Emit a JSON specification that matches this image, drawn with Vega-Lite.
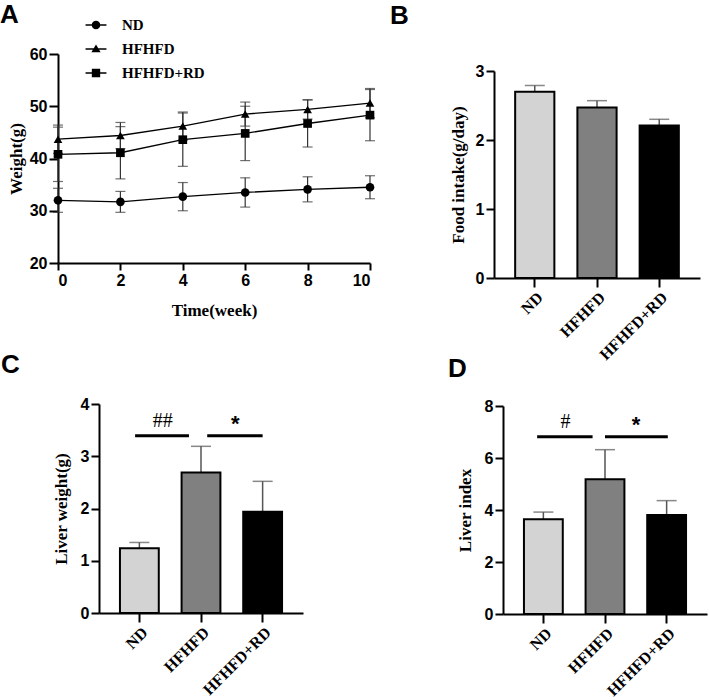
{
  "$schema": "https://vega.github.io/schema/vega-lite/v6.json",
  "background": "white",
  "autosize": {"type": "none"},
  "padding": {"left": 58, "top": 54, "right": 651, "bottom": 646},
  "columns": 2,
  "spacing": {"row": 126, "column": 124},
  "bounds": "flush",
  "align": "each",
  "config": {
    "view": {"stroke": null},
    "axis": {
      "domainColor": "black", "domainWidth": 2, "tickColor": "black", "tickWidth": 2, "tickSize": 8,
      "labelColor": "black", "labelFont": "Liberation Sans", "labelFontSize": 16, "labelFontWeight": "bold", "labelPadding": 2,
      "titleColor": "black", "titleFont": "Liberation Serif", "titleFontSize": 17, "titleFontWeight": "bold", "grid": false
    },
    "title": {"font": "Liberation Sans", "fontSize": 26, "fontWeight": "bold", "color": "black", "anchor": "start", "frame": "group", "baseline": "top"}
  },
  "datasets": {
    "weight": [
      {"week": 0, "group": "ND", "mean": 32.0, "sd": 2.3},
      {"week": 2, "group": "ND", "mean": 31.7, "sd": 2.0},
      {"week": 4, "group": "ND", "mean": 32.7, "sd": 2.7},
      {"week": 6, "group": "ND", "mean": 33.5, "sd": 2.8},
      {"week": 8, "group": "ND", "mean": 34.1, "sd": 2.4},
      {"week": 10, "group": "ND", "mean": 34.5, "sd": 2.2},
      {"week": 0, "group": "HFHFD", "mean": 43.7, "sd": 2.7},
      {"week": 2, "group": "HFHFD", "mean": 44.4, "sd": 2.5},
      {"week": 4, "group": "HFHFD", "mean": 46.2, "sd": 2.7},
      {"week": 6, "group": "HFHFD", "mean": 48.5, "sd": 2.3},
      {"week": 8, "group": "HFHFD", "mean": 49.4, "sd": 1.85},
      {"week": 10, "group": "HFHFD", "mean": 50.6, "sd": 2.8},
      {"week": 0, "group": "HFHFD+RD", "mean": 40.8, "sd": 5.2},
      {"week": 2, "group": "HFHFD+RD", "mean": 41.1, "sd": 5.0},
      {"week": 4, "group": "HFHFD+RD", "mean": 43.6, "sd": 5.1},
      {"week": 6, "group": "HFHFD+RD", "mean": 44.8, "sd": 5.2},
      {"week": 8, "group": "HFHFD+RD", "mean": 46.7, "sd": 4.5},
      {"week": 10, "group": "HFHFD+RD", "mean": 48.3, "sd": 4.9}
    ],
    "food": [
      {"group": "ND", "mean": 2.70, "sd": 0.09},
      {"group": "HFHFD", "mean": 2.47, "sd": 0.10},
      {"group": "HFHFD+RD", "mean": 2.21, "sd": 0.09}
    ],
    "liver": [
      {"group": "ND", "mean": 1.24, "sd": 0.11},
      {"group": "HFHFD", "mean": 2.69, "sd": 0.50},
      {"group": "HFHFD+RD", "mean": 1.94, "sd": 0.58}
    ],
    "index": [
      {"group": "ND", "mean": 3.64, "sd": 0.28},
      {"group": "HFHFD", "mean": 5.18, "sd": 1.14},
      {"group": "HFHFD+RD", "mean": 3.81, "sd": 0.55}
    ],
    "sigC": [
      {"pair": 1, "from": "ND", "to": "HFHFD", "level": 3.39, "label": "##"},
      {"pair": 2, "from": "HFHFD", "to": "HFHFD+RD", "level": 3.39, "label": "*"}
    ],
    "sigD": [
      {"pair": 1, "from": "ND", "to": "HFHFD", "level": 6.82, "label": "#"},
      {"pair": 2, "from": "HFHFD", "to": "HFHFD+RD", "level": 6.82, "label": "*"}
    ]
  },
  "concat": [
    {
      "width": 312, "height": 209,
      "title": {"text": "A", "dx": -58, "offset": -15},
      "data": {"name": "weight"},
      "encoding": {
        "x": {"field": "week", "type": "quantitative", "scale": {"domain": [0, 10], "nice": false},
              "axis": {"title": "Time(week)", "values": [0, 2, 4, 6, 8, 10], "tickSize": 7, "titlePadding": 14}},
        "y": {"field": "mean", "type": "quantitative", "scale": {"domain": [20, 60], "nice": false, "zero": false},
              "axis": {"title": "Weight(g)", "values": [20, 30, 40, 50, 60], "tickSize": 9, "titlePadding": 4}}
      },
      "layer": [
        {"mark": {"type": "errorbar", "color": "#333333", "thickness": 1.2, "ticks": {"size": 10, "thickness": 1.2}},
         "encoding": {"yError": {"field": "sd"}}},
        {"mark": {"type": "line", "color": "black", "strokeWidth": 1.3},
         "encoding": {"detail": {"field": "group"}}},
        {"mark": {"type": "point", "filled": true, "color": "black", "size": 75, "opacity": 1},
         "encoding": {"shape": {"field": "group", "scale": {"domain": ["ND", "HFHFD", "HFHFD+RD"], "range": ["circle", "triangle-up", "square"]}, "legend": null}}},
        {"mark": {"type": "point", "fill": "black", "stroke": "black", "strokeWidth": 1.5, "opacity": 0},
         "encoding": {"shape": {"field": "group",
           "scale": {"domain": ["ND", "HFHFD", "HFHFD+RD"],
                     "range": ["M-0.95,-0.065H0.95V0.065H-0.95ZM0.39,0A0.39,0.39,0,1,1,-0.39,0A0.39,0.39,0,1,1,0.39,0Z",
                               "M-0.95,-0.065H0.95V0.065H-0.95ZM0,-0.42L0.42,0.3L-0.42,0.3Z",
                               "M-0.95,-0.065H0.95V0.065H-0.95ZM-0.38,-0.38H0.38V0.38H-0.38Z"]},
           "legend": {"orient": "none", "legendX": 26, "legendY": -41, "title": null, "padding": 0,
                      "symbolSize": 484, "symbolStrokeWidth": 1.5, "symbolFillColor": "black", "symbolStrokeColor": "black", "symbolOpacity": 1,
                      "labelFont": "Liberation Serif", "labelFontWeight": "bold", "labelFontSize": 15, "labelColor": "black",
                      "labelOffset": 14, "rowPadding": 4}}}}
      ],
      "resolve": {"scale": {"shape": "independent"}}
    },
    {
      "width": 206, "height": 224,
      "title": {"text": "B", "dx": -104, "offset": 25},
      "data": {"name": "food"},
      "encoding": {
        "x": {"field": "group", "type": "nominal", "sort": null,
              "scale": {"domain": ["ND", "HFHFD", "HFHFD+RD"], "paddingInner": 0.37, "paddingOuter": 0.34},
              "axis": {"title": null, "labelAngle": -45, "labelFont": "Liberation Serif", "labelFontSize": 16, "tickSize": 9}},
        "y": {"field": "mean", "type": "quantitative", "scale": {"domain": [0, 3], "nice": false, "range": [224, 17]},
              "axis": {"title": "Food intake(g/day)", "values": [0, 1, 2, 3], "titlePadding": 8}}
      },
      "layer": [
        {"mark": {"type": "errorbar", "color": "#555555", "thickness": 1.5, "ticks": {"size": 20, "thickness": 1.5}},
         "encoding": {"yError": {"field": "sd"}}},
        {"mark": {"type": "bar", "stroke": "black", "strokeWidth": 2},
         "encoding": {"fill": {"field": "group", "scale": {"domain": ["ND", "HFHFD", "HFHFD+RD"], "range": ["#d3d3d3", "#808080", "#000000"]}, "legend": null}}}
      ]
    },
    {
      "width": 245, "height": 209,
      "title": {"text": "C", "dx": -57, "offset": 18},
      "encoding": {
        "x": {"field": "group", "type": "nominal", "sort": null,
              "scale": {"domain": ["ND", "HFHFD", "HFHFD+RD"], "paddingInner": 0.37, "paddingOuter": 0.34, "range": [41, 245]},
              "axis": {"title": null, "labelAngle": -45, "labelFont": "Liberation Serif", "labelFontSize": 16, "tickSize": 9}},
        "y": {"field": "mean", "type": "quantitative", "scale": {"domain": [0, 4], "nice": false},
              "axis": {"title": "Liver weight(g)", "values": [0, 1, 2, 3, 4], "offset": -41, "titlePadding": 10}}
      },
      "layer": [
        {"data": {"name": "liver"},
         "mark": {"type": "errorbar", "color": "#555555", "thickness": 1.5, "ticks": {"size": 20, "thickness": 1.5}},
         "encoding": {"yError": {"field": "sd"}}},
        {"data": {"name": "liver"},
         "mark": {"type": "bar", "stroke": "black", "strokeWidth": 2},
         "encoding": {"fill": {"field": "group", "scale": {"domain": ["ND", "HFHFD", "HFHFD+RD"], "range": ["#d3d3d3", "#808080", "#000000"]}, "legend": null}}},
        {"data": {"name": "sigC"}, "transform": [{"filter": "datum.pair == 1"}],
         "mark": {"type": "rule", "color": "black", "strokeWidth": 3},
         "encoding": {"x": {"field": "from", "type": "nominal", "bandPosition": 0.39}, "x2": {"field": "to", "bandPosition": 0.19},
                      "y": {"field": "level", "type": "quantitative"}}},
        {"data": {"name": "sigC"}, "transform": [{"filter": "datum.pair == 2"}],
         "mark": {"type": "rule", "color": "black", "strokeWidth": 3},
         "encoding": {"x": {"field": "from", "type": "nominal", "bandPosition": 0.66}, "x2": {"field": "to", "bandPosition": 0.5},
                      "y": {"field": "level", "type": "quantitative"}}},
        {"data": {"name": "sigC"}, "transform": [{"filter": "datum.pair == 1"}],
         "mark": {"type": "text", "font": "Liberation Serif", "fontSize": 20, "color": "black", "baseline": "middle", "dy": -15},
         "encoding": {"x": {"field": "from", "type": "nominal", "bandPosition": 1.1},
                      "y": {"field": "level", "type": "quantitative"}, "text": {"field": "label"}}},
        {"data": {"name": "sigC"}, "transform": [{"filter": "datum.pair == 2"}],
         "mark": {"type": "text", "font": "Liberation Sans", "fontWeight": "bold", "fontSize": 22, "color": "black", "baseline": "middle", "dy": -12},
         "encoding": {"x": {"field": "from", "type": "nominal", "bandPosition": 1.38},
                      "y": {"field": "level", "type": "quantitative"}, "text": {"field": "label"}}}
      ]
    },
    {
      "width": 213, "height": 210,
      "title": {"text": "D", "dx": -46, "offset": 16},
      "encoding": {
        "x": {"field": "group", "type": "nominal", "sort": null,
              "scale": {"domain": ["ND", "HFHFD", "HFHFD+RD"], "paddingInner": 0.37, "paddingOuter": 0.34, "range": [9, 213]},
              "axis": {"title": null, "labelAngle": -45, "labelFont": "Liberation Serif", "labelFontSize": 16, "tickSize": 9}},
        "y": {"field": "mean", "type": "quantitative", "scale": {"domain": [0, 8], "nice": false, "range": [210, 2]},
              "axis": {"title": "Liver index", "values": [0, 2, 4, 6, 8], "offset": -9, "titlePadding": 10}}
      },
      "layer": [
        {"data": {"name": "index"},
         "mark": {"type": "errorbar", "color": "#555555", "thickness": 1.5, "ticks": {"size": 20, "thickness": 1.5}},
         "encoding": {"yError": {"field": "sd"}}},
        {"data": {"name": "index"},
         "mark": {"type": "bar", "stroke": "black", "strokeWidth": 2},
         "encoding": {"fill": {"field": "group", "scale": {"domain": ["ND", "HFHFD", "HFHFD+RD"], "range": ["#d3d3d3", "#808080", "#000000"]}, "legend": null}}},
        {"data": {"name": "sigD"}, "transform": [{"filter": "datum.pair == 1"}],
         "mark": {"type": "rule", "color": "black", "strokeWidth": 3},
         "encoding": {"x": {"field": "from", "type": "nominal", "bandPosition": 0.34}, "x2": {"field": "to", "bandPosition": 0.18},
                      "y": {"field": "level", "type": "quantitative"}}},
        {"data": {"name": "sigD"}, "transform": [{"filter": "datum.pair == 2"}],
         "mark": {"type": "rule", "color": "black", "strokeWidth": 3},
         "encoding": {"x": {"field": "from", "type": "nominal", "bandPosition": 0.5}, "x2": {"field": "to", "bandPosition": 0.53},
                      "y": {"field": "level", "type": "quantitative"}}},
        {"data": {"name": "sigD"}, "transform": [{"filter": "datum.pair == 1"}],
         "mark": {"type": "text", "font": "Liberation Serif", "fontSize": 20, "color": "black", "baseline": "middle", "dy": -15},
         "encoding": {"x": {"field": "from", "type": "nominal", "bandPosition": 1.07},
                      "y": {"field": "level", "type": "quantitative"}, "text": {"field": "label"}}},
        {"data": {"name": "sigD"}, "transform": [{"filter": "datum.pair == 2"}],
         "mark": {"type": "text", "font": "Liberation Sans", "fontWeight": "bold", "fontSize": 22, "color": "black", "baseline": "middle", "dy": -12},
         "encoding": {"x": {"field": "from", "type": "nominal", "bandPosition": 1.3},
                      "y": {"field": "level", "type": "quantitative"}, "text": {"field": "label"}}}
      ]
    }
  ]
}
